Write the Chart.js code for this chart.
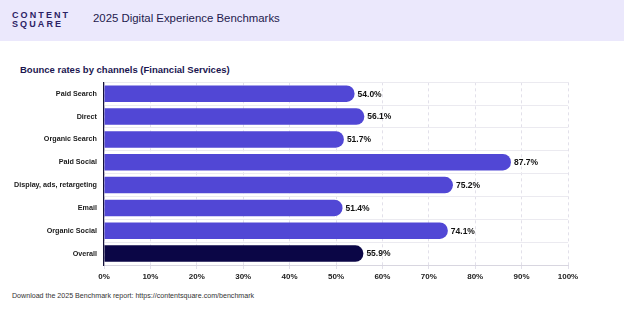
<!DOCTYPE html>
<html><head><meta charset="utf-8">
<script src="https://cdn.jsdelivr.net/npm/chart.js@4/dist/chart.umd.min.js"></script>
<style>
html,body{margin:0;padding:0;background:#fff;width:624px;height:312px;overflow:hidden;font-family:"Liberation Sans",Arial,sans-serif;}
#hdr{position:absolute;left:0;top:0;width:624px;height:41px;background:#ebe8fc;}
#logo{position:absolute;left:12px;top:11px;font-size:9px;line-height:8.6px;letter-spacing:2.1px;color:#2b2264;font-weight:bold;}
#htitle{position:absolute;left:93px;top:12px;font-size:11.4px;color:#1e1a4d;}
#ctitle{position:absolute;left:20px;top:64px;font-size:9.5px;font-weight:bold;color:#1b1650;}
#foot{position:absolute;left:12px;top:292px;font-size:7.1px;color:#333;}
#wrap{position:absolute;left:0;top:71px;width:624px;height:217px;}
</style></head>
<body>
<div id="hdr"><div id="logo">CONTENT<br>SQUARE</div><div id="htitle">2025 Digital Experience Benchmarks</div></div>
<div id="ctitle">Bounce rates by channels (Financial Services)</div>
<div id="wrap"><canvas id="c" width="624" height="217"></canvas></div>
<div id="foot">Download the 2025 Benchmark report: https://contentsquare.com/benchmark</div>
<script>
const categories = ["Paid Search","Direct","Organic Search","Paid Social","Display, ads, retargeting","Email","Organic Social","Overall"];
const bounceRates = [54.0,56.1,51.7,87.7,75.2,51.4,74.1,55.9];
const xTicks = [0,10,20,30,40,50,60,70,80,90,100];

const colors = categories.map(c => c === "Overall" ? "#0b0646" : "#5147d5");

const valueLabels = {
  id:'valueLabels',
  afterDatasetsDraw(chart){
    const ctx = chart.ctx;
    const meta = chart.getDatasetMeta(0);
    ctx.save();
    ctx.font = 'bold 8.5px "Liberation Sans", Arial, sans-serif';
    ctx.fillStyle = '#111';
    ctx.textBaseline = 'middle';
    ctx.textAlign = 'left';
    meta.data.forEach((bar,i)=>{
      ctx.fillText(bounceRates[i].toFixed(1)+'%', bar.x+3, bar.y+0.5);
    });
    ctx.restore();
  }
};

new Chart(document.getElementById('c'),{
  type:'bar',
  data:{labels:categories,datasets:[{data:bounceRates,backgroundColor:colors,borderRadius:{topRight:8,bottomRight:8,topLeft:0,bottomLeft:0},borderSkipped:'start',barPercentage:0.72,categoryPercentage:1}]},
  options:{
    indexAxis:'y',responsive:false,animation:false,devicePixelRatio:1,
    layout:{padding:{top:4,right:56,left:0,bottom:0}},
    plugins:{legend:{display:false},tooltip:{enabled:false}},
    scales:{
      x:{min:0,max:100,
        afterBuildTicks(s){s.ticks = xTicks.map(v=>({value:v}));},
        afterFit(s){s.height=23;},
        ticks:{callback:v=>v+'%',font:{size:8,weight:'bold',family:'"Liberation Sans", Arial, sans-serif'},color:'#222',padding:3,maxRotation:0},
        grid:{color:'#e2e0ea',tickLength:4,drawTicks:true},
        border:{dash:[3,3],display:true,color:'#d8d6e0'}
      },
      y:{
        afterFit(s){s.width=104;},
        ticks:{font:{size:7.2,weight:'bold',family:'"Liberation Sans", Arial, sans-serif'},color:'#1a1a1a',padding:7},
        grid:{color:'#ebeaf0',drawTicks:false,offset:true},
        border:{color:'#15123a',width:1.2}
      }
    }
  },
  plugins:[valueLabels]
});
</script>
</body></html>
